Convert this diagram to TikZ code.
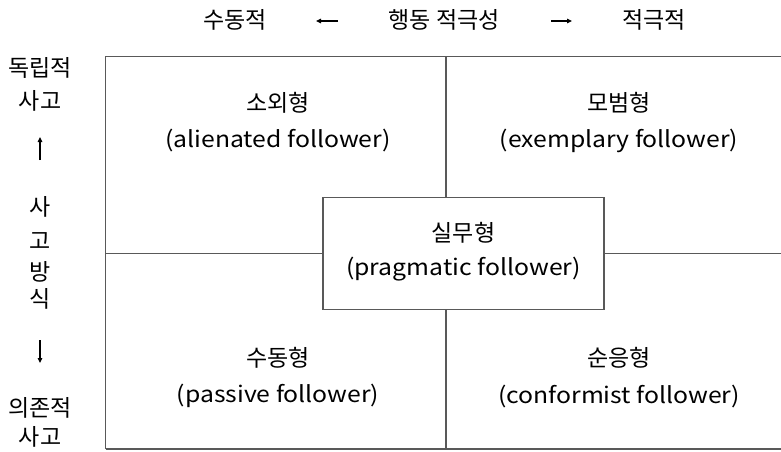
\documentclass[tikz,border=0pt]{standalone}
\usepackage{fontspec}
\setmainfont{Noto Sans CJK KR}
\newfontfamily\widelatin[FakeStretch=1.1]{Noto Sans CJK KR}
\usetikzlibrary{arrows.meta}
\begin{document}
\begin{tikzpicture}[x=1pt,y=-1pt,
  frame/.style={draw=black!65,line width=1.6pt},
  lbl/.style={font=\fontsize{23}{27}\selectfont,inner sep=0pt,align=center},
  eng/.style={font=\widelatin\fontsize{22.5}{27}\selectfont,inner sep=0pt,align=center},
  axisarrow/.style={line width=1.1pt,-{Triangle[length=5pt,width=4.5pt]}}]
\useasboundingbox (0,0) rectangle (781,452);
% outer frame (runs past the right edge)
\coordinate (tl) at (105.5,56.5);
\coordinate (br) at (800,449);
\draw[frame] (br -| tl) -- (tl) -- (tl -| br);
\draw[frame] (br -| tl) -- (br);
% centre box
\node[frame,fill=white,minimum width=281pt,minimum height=112pt,inner sep=0pt] (mid) at (463.5,253.5) {};
% dividers
\coordinate (vtop) at (446,56.5);
\coordinate (vbot) at (446,449);
\coordinate (hleft) at (105.5,253.5);
\coordinate (hright) at (800,253.5);
\draw[frame] (vtop) -- (vtop |- mid.north);
\draw[frame] (vbot) -- (vbot |- mid.south);
\draw[frame] (hleft) -- (hleft -| mid.west);
\draw[frame] (hright) -- (hright -| mid.east);
% quadrant labels
\node[lbl] (q1) at (278,103) {소외형};
\node[eng] (q1e) at (278,141) {(alienated follower)};
\node[lbl] (q2) at (619,103) {모범형};
\node[eng] (q2e) at (619,141) {(exemplary follower)};
\node[lbl] (q3) at (463.5,233) {실무형};
\node[eng] (q3e) at (463.5,269) {(pragmatic follower)};
\node[lbl] (q4) at (278,358) {수동형};
\node[eng] (q4e) at (278,396) {(passive follower)};
\node[lbl] (q5) at (619,358) {순응형};
\node[eng] (q5e) at (619,396) {(conformist follower)};
% horizontal axis
\node[lbl] (passive) at (235,20) {수동적};
\node[lbl] (act) at (444,20) {행동 적극성};
\node[lbl] (active) at (654,20) {적극적};
\coordinate (la1) at (338,21);
\coordinate (la2) at (316,21);
\coordinate (ra1) at (551,21);
\coordinate (ra2) at (572,21);
\draw[axisarrow] (la1) -- (la2);
\draw[axisarrow] (ra1) -- (ra2);
% vertical axis
\node[lbl] (ind) at (40,68) {독립적};
\node[lbl] (ind2) at (40,101) {사고};
\node[lbl] (v1) at (40,207) {사};
\node[lbl] (v2) at (40,241) {고};
\node[lbl] (v3) at (40,272) {방};
\node[lbl] (v4) at (40,299) {식};
\node[lbl] (dep) at (40,408) {의존적};
\node[lbl] (dep2) at (40,437) {사고};
\coordinate (ua1) at (40,160);
\coordinate (ua2) at (40,137);
\coordinate (da1) at (40,340);
\coordinate (da2) at (40,363);
\draw[axisarrow] (ua1) -- (ua2);
\draw[axisarrow] (da1) -- (da2);
\end{tikzpicture}
\end{document}
